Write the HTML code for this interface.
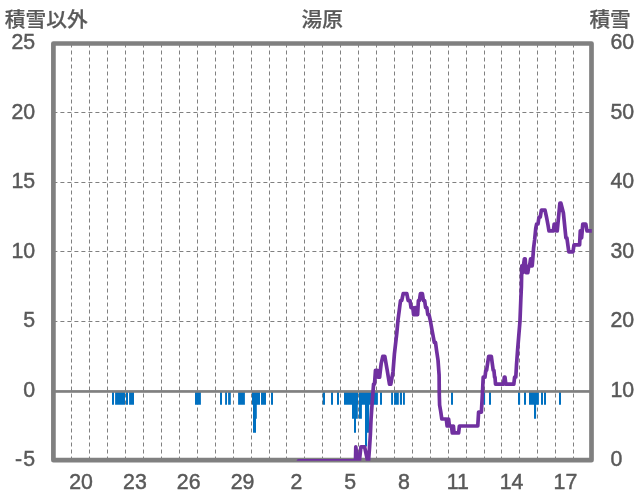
<!DOCTYPE html>
<html><head><meta charset="utf-8"><title>湯原</title>
<style>
html,body{margin:0;padding:0;background:#fff;}
body{width:636px;height:501px;overflow:hidden;}
svg{display:block;}
text{font-family:"Liberation Sans","Noto Sans CJK JP",sans-serif;fill:#595959;font-size:21.33px;}
.num{stroke:#595959;stroke-width:0.45px;}
.cjk{font-weight:500;font-size:20.7px;stroke:#595959;stroke-width:0.25px;}
</style></head><body>
<svg width="636" height="501" viewBox="0 0 636 501">
<rect x="0" y="0" width="636" height="501" fill="#fff"/>
<defs><clipPath id="pa"><rect x="53.4" y="43.5" width="538.4" height="417.2"/></clipPath></defs>
<path d="M71.5 43.5V460.2M89.5 43.5V460.2M107.5 43.5V460.2M125.5 43.5V460.2M143.5 43.5V460.2M161.5 43.5V460.2M179.5 43.5V460.2M197.5 43.5V460.2M215.5 43.5V460.2M233.5 43.5V460.2M251.5 43.5V460.2M269.5 43.5V460.2M286.5 43.5V460.2M304.5 43.5V460.2M322.5 43.5V460.2M340.5 43.5V460.2M358.5 43.5V460.2M376.5 43.5V460.2M394.5 43.5V460.2M412.5 43.5V460.2M430.5 43.5V460.2M448.5 43.5V460.2M466.5 43.5V460.2M484.5 43.5V460.2M501.5 43.5V460.2M519.5 43.5V460.2M537.5 43.5V460.2M555.5 43.5V460.2M573.5 43.5V460.2" stroke="#808080" stroke-width="1" stroke-dasharray="4 3" fill="none"/>
<path d="M53.4 112.5H591.5M53.4 182.5H591.5M53.4 251.5H591.5M53.4 321.5H591.5" stroke="#808080" stroke-width="1" stroke-dasharray="4 3" fill="none"/>
<rect x="53.4" y="43.5" width="538.1" height="416.7" fill="none" stroke="#808080" stroke-width="4.7" stroke-linejoin="round"/>
<path d="M112.0 390.90H114.0V404.82H112.0ZM115.1 390.90H125.0V404.82H115.1ZM126.0 390.90H128.0V404.82H126.0ZM129.1 390.90H134.0V404.82H129.1ZM195.0 390.90H200.9V404.82H195.0ZM220.0 390.90H222.0V404.82H220.0ZM225.1 390.90H227.0V404.82H225.1ZM228.1 390.90H230.8V404.82H228.1ZM238.1 390.90H244.9V404.82H238.1ZM252.0 390.90H260.0V404.82H252.0ZM253.0 390.90H256.8V418.74H253.0ZM253.0 390.90H256.0V432.66H253.0ZM261.0 390.90H266.0V404.82H261.0ZM271.0 390.90H273.0V404.82H271.0ZM322.8 390.90H325.0V404.82H322.8ZM331.0 390.90H333.0V404.82H331.0ZM337.0 390.90H339.0V404.82H337.0ZM344.0 390.90H358.0V404.82H344.0ZM352.0 390.90H357.8V418.74H352.0ZM354.0 390.90H356.0V432.66H354.0ZM359.0 390.90H377.9V404.82H359.0ZM358.9 390.90H361.9V418.74H358.9ZM365.0 390.90H369.2V432.66H365.0ZM365.0 390.90H367.1V446.58H365.0ZM380.0 390.90H382.0V404.82H380.0ZM391.1 390.90H393.0V404.82H391.1ZM394.1 390.90H398.8V404.82H394.1ZM399.9 390.90H402.0V404.82H399.9ZM403.0 390.90H404.9V404.82H403.0ZM451.0 390.90H453.0V404.82H451.0ZM483.2 390.90H485.1V404.82H483.2ZM489.0 390.90H491.0V404.82H489.0ZM518.0 390.90H520.1V404.82H518.0ZM524.0 390.90H526.0V404.82H524.0ZM529.0 390.90H538.9V404.82H529.0ZM534.0 390.90H536.1V418.74H534.0ZM541.0 390.90H543.0V404.82H541.0ZM544.0 390.90H546.0V404.82H544.0ZM559.0 390.90H561.0V404.82H559.0Z" fill="#0070C0"/>
<rect x="53.4" y="390.1" width="538.1" height="2.7" fill="#808080"/>
<path d="M298.5 460.80 L355.5 460.80 L355.8 446.87 L357.4 460.80 L359.4 460.80 L360.9 446.87 L364.6 446.87 L367.6 460.80 L368.5 460.80 L369.5 448.00 L370.4 434.00 L371.0 420.00 L372.2 402.00 L373.6 384.00 L374.5 384.19 L375.5 370.25 L377.2 370.25 L378.2 377.22 L379.6 377.22 L381.2 363.29 L382.8 356.33 L384.8 356.33 L387.0 369.00 L389.5 384.19 L390.8 384.19 L393.0 372.00 L394.4 354.00 L396.8 333.00 L398.0 320.00 L399.3 310.00 L400.5 300.61 L401.7 300.61 L403.2 293.64 L406.8 293.64 L408.2 300.61 L410.0 300.61 L411.0 307.57 L412.8 307.57 L413.6 314.54 L414.4 314.54 L415.1 307.57 L415.7 307.57 L416.4 314.54 L417.6 314.54 L418.4 300.61 L419.4 300.61 L420.4 293.64 L422.4 293.64 L423.4 300.61 L424.6 300.61 L425.6 307.57 L426.8 307.57 L427.8 314.54 L429.0 314.54 L430.5 321.50 L432.0 330.00 L434.3 342.39 L435.5 342.39 L436.5 350.00 L438.0 360.00 L439.1 375.00 L439.3 395.00 L439.6 405.00 L440.8 412.00 L441.8 419.01 L446.3 419.01 L447.1 425.98 L447.9 419.01 L448.6 419.01 L449.4 425.98 L451.5 425.98 L452.3 432.94 L453.0 425.98 L453.4 425.98 L454.1 432.94 L458.6 432.94 L459.4 425.98 L477.8 425.98 L478.6 412.05 L481.4 412.05 L482.6 390.00 L483.2 377.22 L485.0 377.22 L485.8 370.25 L486.6 370.25 L488.7 356.33 L491.3 356.33 L493.2 370.25 L493.9 370.25 L494.6 377.22 L495.0 377.22 L495.5 384.19 L503.6 384.19 L504.3 377.22 L505.0 377.22 L505.8 384.19 L513.8 384.19 L514.6 377.22 L515.8 377.22 L516.5 365.00 L517.6 350.00 L520.0 320.80 L520.8 300.00 L521.4 286.68 L521.8 265.78 L522.6 272.75 L523.4 265.78 L524.4 258.82 L525.2 258.82 L526.0 272.75 L527.8 272.75 L528.8 265.78 L529.6 265.78 L530.6 258.82 L531.4 265.78 L532.2 265.78 L532.8 258.82 L533.6 248.00 L534.6 240.00 L535.8 228.00 L536.6 223.99 L538.0 223.99 L539.0 217.03 L540.3 217.03 L541.4 210.06 L545.0 210.06 L546.5 217.03 L548.0 225.00 L549.0 230.96 L553.4 230.96 L554.2 223.99 L556.0 223.99 L556.6 230.96 L557.2 230.96 L559.9 203.10 L560.9 203.10 L563.4 213.00 L565.9 237.92 L566.9 237.92 L568.8 251.85 L573.0 251.85 L574.0 244.89 L579.6 244.89 L580.3 230.96 L581.6 237.92 L582.8 223.99 L585.8 223.99 L587.0 230.96 L595.0 230.96" clip-path="url(#pa)" fill="none" stroke="#7030A0" stroke-width="3.7" stroke-linejoin="round" stroke-linecap="round"/>
<text class="cjk" transform="translate(4.80 27.3) scale(1 0.963)">積雪以外</text>
<text class="cjk" transform="translate(322.20 27.3) scale(1 0.963)" text-anchor="middle">湯原</text>
<text class="cjk" transform="translate(589.40 27.3) scale(1 0.963)">積雪</text>
<text class="num" transform="translate(35.20 49.20) scale(1 1.068)" text-anchor="end">25</text>
<text class="num" transform="translate(35.20 118.70) scale(1 1.068)" text-anchor="end">20</text>
<text class="num" transform="translate(35.20 188.20) scale(1 1.068)" text-anchor="end">15</text>
<text class="num" transform="translate(35.20 257.70) scale(1 1.068)" text-anchor="end">10</text>
<text class="num" transform="translate(35.20 327.20) scale(1 1.068)" text-anchor="end">5</text>
<text class="num" transform="translate(35.20 396.70) scale(1 1.068)" text-anchor="end">0</text>
<text class="num" transform="translate(35.20 466.20) scale(1 1.068)" text-anchor="end">-<tspan dx="1.2">5</tspan></text>
<text class="num" transform="translate(610.50 49.20) scale(1 1.068)">60</text>
<text class="num" transform="translate(610.50 118.70) scale(1 1.068)">50</text>
<text class="num" transform="translate(610.50 188.20) scale(1 1.068)">40</text>
<text class="num" transform="translate(610.50 257.70) scale(1 1.068)">30</text>
<text class="num" transform="translate(610.50 327.20) scale(1 1.068)">20</text>
<text class="num" transform="translate(610.50 396.70) scale(1 1.068)">10</text>
<text class="num" transform="translate(610.50 466.20) scale(1 1.068)">0</text>
<text class="num" transform="translate(81.11 488.50) scale(1 1.068)" text-anchor="middle">20</text>
<text class="num" transform="translate(134.92 488.50) scale(1 1.068)" text-anchor="middle">23</text>
<text class="num" transform="translate(188.73 488.50) scale(1 1.068)" text-anchor="middle">26</text>
<text class="num" transform="translate(242.54 488.50) scale(1 1.068)" text-anchor="middle">29</text>
<text class="num" transform="translate(296.35 488.50) scale(1 1.068)" text-anchor="middle">2</text>
<text class="num" transform="translate(350.16 488.50) scale(1 1.068)" text-anchor="middle">5</text>
<text class="num" transform="translate(403.96 488.50) scale(1 1.068)" text-anchor="middle">8</text>
<text class="num" transform="translate(457.78 488.50) scale(1 1.068)" text-anchor="middle">11</text>
<text class="num" transform="translate(511.58 488.50) scale(1 1.068)" text-anchor="middle">14</text>
<text class="num" transform="translate(565.39 488.50) scale(1 1.068)" text-anchor="middle">17</text>
</svg>
</body></html>
